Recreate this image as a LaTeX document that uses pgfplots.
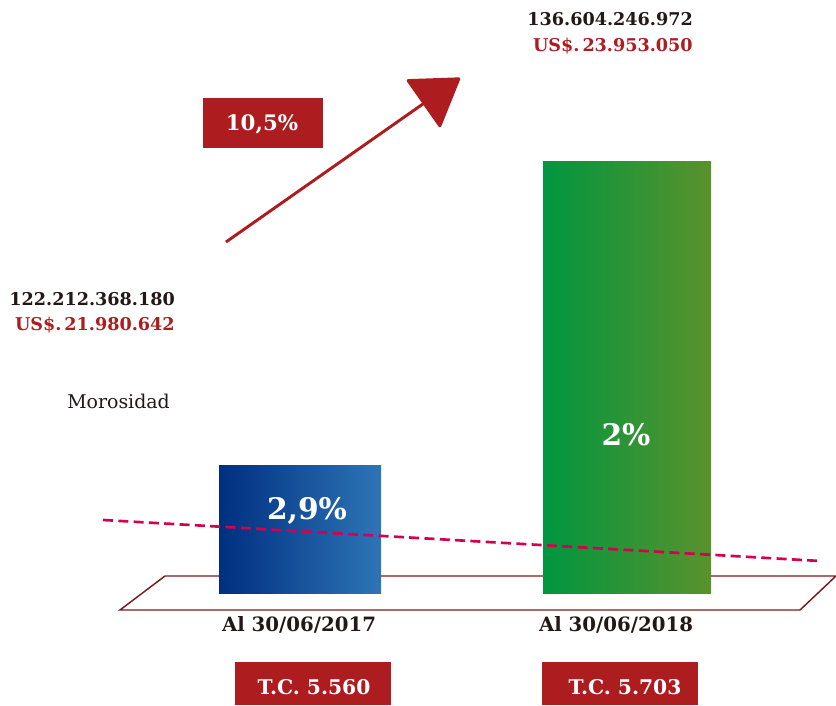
\documentclass[border=0pt]{standalone}
\usepackage{pgfplots}
\pgfplotsset{compat=1.18}
\usepackage{fontspec}
\setmainfont{DejaVu Serif}
\usetikzlibrary{arrows.meta}
\definecolor{dred}{RGB}{173,28,31}
\definecolor{dtext}{RGB}{35,24,21}
\definecolor{blueL}{RGB}{0,47,128}
\definecolor{blueR}{RGB}{46,117,182}
\definecolor{greenL}{RGB}{0,150,64}
\definecolor{greenR}{RGB}{90,146,44}
\definecolor{dashc}{RGB}{212,0,80}
\definecolor{plat}{RGB}{122,26,26}
\newcommand{\fs}[1]{\fontsize{#1}{#1}\selectfont}
\begin{document}
\begin{tikzpicture}
\begin{axis}[x=0.75pt,y=0.75pt,xmin=0,xmax=836,ymin=-112,ymax=594,
  hide axis,clip=false]
\coordinate (sw) at (axis cs:0,-112);
\coordinate (ne) at (axis cs:836,594);
% platform
\addplot[draw=plat, line width=1.1pt] coordinates {(165,18) (836,18) (800,-16) (120,-16) (165,18)};
% bars
\addplot[ybar, bar width=162, draw=none, left color=blueL, right color=blueR] coordinates {(300,128)};
\addplot[ybar, bar width=168, draw=none, left color=greenL, right color=greenR] coordinates {(627,432)};
% morosidad trend
\addplot[dashc, line width=2pt, dash pattern=on 7.5pt off 4pt] coordinates {(103,74) (820,33)};
% arrow
\draw[dred, line width=2.2pt, -{Triangle[length=35pt,width=45pt,round]}] (axis cs:226,352) -- (axis cs:460,516);
% boxes
\fill[dred] (axis cs:203,446) rectangle (axis cs:323,496);
\fill[dred] (axis cs:235,-111) rectangle (axis cs:391,-68);
\fill[dred] (axis cs:542,-111) rectangle (axis cs:698,-68);
% texts
\node[anchor=base east, text=dtext, font=\fs{13.2}\bfseries, inner sep=0pt] at (axis cs:693,568) {136.604.246.972};
\node[anchor=base east, text=dred, font=\fs{13.2}\bfseries, inner sep=0pt] at (axis cs:693,542) {US\$.\,23.953.050};
\node[anchor=base east, text=dtext, font=\fs{13.2}\bfseries, inner sep=0pt] at (axis cs:175,288) {122.212.368.180};
\node[anchor=base east, text=dred, font=\fs{13.2}\bfseries, inner sep=0pt] at (axis cs:175,263) {US\$.\,21.980.642};
\node[anchor=base west, text=dtext, font=\fs{14.2}, inner sep=0pt] at (axis cs:67,185) {Morosidad};
\node[anchor=base, text=white, font=\fs{22.3}\bfseries, inner sep=0pt] at (axis cs:307,74) {2,9\%};
\node[anchor=base, text=white, font=\fs{22.3}\bfseries, inner sep=0pt] at (axis cs:626,148) {2\%};
\node[anchor=base, text=white, font=\fs{16}\bfseries, inner sep=0pt] at (axis cs:262,463) {10,5\%};
\node[anchor=base, text=dtext, font=\fs{14.8}\bfseries, inner sep=0pt] at (axis cs:299,-38) {Al 30/06/2017};
\node[anchor=base, text=dtext, font=\fs{14.8}\bfseries, inner sep=0pt] at (axis cs:616,-38) {Al 30/06/2018};
\node[anchor=base, text=white, font=\fs{15.2}\bfseries, inner sep=0pt] at (axis cs:314,-101) {T.C. 5.560};
\node[anchor=base, text=white, font=\fs{15.2}\bfseries, inner sep=0pt] at (axis cs:625,-101) {T.C. 5.703};
\end{axis}
\pgfresetboundingbox
\path[use as bounding box] (sw) rectangle (ne);
\end{tikzpicture}
\end{document}
